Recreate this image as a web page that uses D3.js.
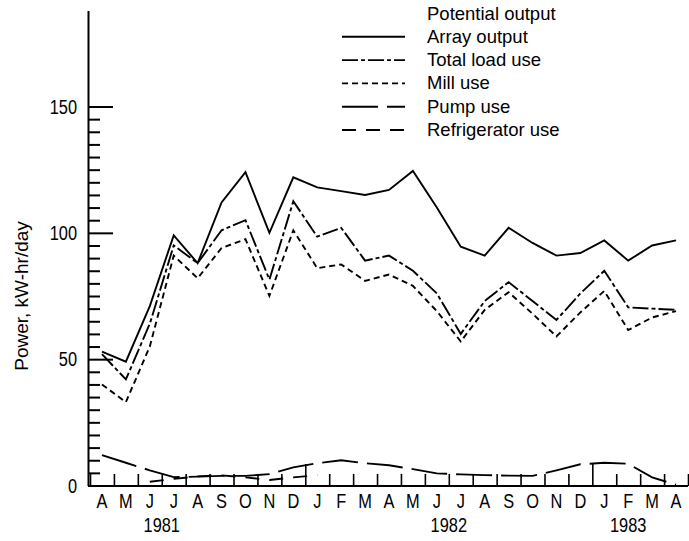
<!DOCTYPE html>
<html>
<head>
<meta charset="utf-8">
<script src="https://cdn.jsdelivr.net/npm/d3@7"></script>
<style>
  html, body { margin: 0; background: #fff; }
  svg { display: block; }
</style>
</head>
<body>
<div id="chart"></div>
<script>
const WIDTH = 689;
const HEIGHT = 541;
const FONT = '"Liberation Sans", Arial, sans-serif';
const SQUEEZE = 0.78; // the scan's axis lettering is condensed
const LINE_W = 1.9;

// April 1981 .. April 1983, one point per month.
const MONTHS = [
  '1981-04', '1981-05', '1981-06', '1981-07', '1981-08', '1981-09', '1981-10', '1981-11', '1981-12',
  '1982-01', '1982-02', '1982-03', '1982-04', '1982-05', '1982-06', '1982-07', '1982-08', '1982-09',
  '1982-10', '1982-11', '1982-12', '1983-01', '1983-02', '1983-03', '1983-04',
];
const MONTH_LETTERS = ['A', 'M', 'J', 'J', 'A', 'S', 'O', 'N', 'D', 'J', 'F', 'M', 'A', 'M', 'J', 'J', 'A', 'S', 'O', 'N', 'D', 'J', 'F', 'M', 'A'];
const YEAR_LABELS = ['1981', '1982', '1983'];
// each year label sits centred under these months
const YEAR_UNDER = [['1981-06', '1981-07'], ['1982-06', '1982-07'], ['1983-02', '1983-02']];
const YEAR_STARTS = ['1982-01', '1983-01'];
const Y_MAJOR = [0, 50, 100, 150];

// kW-hr/day
const arrayOutput = [53, 49, 71, 99, 88, 112, 124, 100, 122, 118, 116.5, 115, 117, 124.5, 110, 94.5, 91, 102, 96, 91, 92, 97, 89, 95, 97];
const totalLoadUse = [52, 42, 64, 95, 88, 101, 105, 81.5, 112.5, 98.5, 102, 89, 91, 85, 76, 60, 73, 80.5, 73, 65.5, 76, 85, 70.5, 70, 69.5];
const millUse = [40, 33, 55, 91, 82, 94, 97.5, 75, 101, 86, 87.5, 81, 83.5, 79, 69, 57, 69.5, 76.5, 68, 59, 68.5, 77, 61.5, 66.5, 69];
const pumpUse = [12, 9, 6, 3.3, 3.5, 3.8, 3.8, 4.5, 7.2, 8.8, 10, 8.8, 8, 6.5, 4.8, 4.4, 4.1, 3.9, 3.8, 6, 8.4, 9, 8.6, 3.2, 0.3];
const refrigeratorUse = [null, null, 1.5, 2.6, 3.6, 4, 3.2, 2.2, 3.2, 4.1, null, null, null, null, null, null, null, null, null, null, null, null, null, null, null];

const LEGEND_LABELS = ['Potential output', 'Array output', 'Total load use', 'Mill use', 'Pump use', 'Refrigerator use'];
const SERIES = [null, arrayOutput, totalLoadUse, millUse, pumpUse, refrigeratorUse];

// dash pattern per legend row (no sample drawn for potential output)
const DASHES = [null, null, '16,3,4,3', '6,4', '36,9', '14,10'];

const svg = d3.select('#chart').append('svg')
  .attr('width', WIDTH)
  .attr('height', HEIGHT);

const x = d3.scaleBand().domain(MONTHS).range([90, 688]).padding(0);
const xc = (m) => x(m) + x.bandwidth() / 2;
const y = d3.scaleLinear().domain([0, 188]).range([485.5, 10.5]);

// squeeze text horizontally around its own anchor point
function condense(sel) {
  sel.each(function () {
    const t = d3.select(this);
    const x0 = +t.attr('x') || 0;
    t.attr('x', x0 / SQUEEZE).attr('transform', `scale(${SQUEEZE},1)`);
  });
}

// y axis: long ticks at 50s, short ticks every 5, all pointing inward
const minor = d3.range(5, 150, 5).filter((v) => v % 50 !== 0);
svg.append('g')
  .attr('transform', 'translate(88,0)')
  .call(d3.axisLeft(y).tickValues(minor).tickSizeInner(-12).tickSizeOuter(0).tickFormat(''))
  .call((g) => g.select('.domain').remove())
  .call((g) => g.selectAll('line').attr('stroke-width', 2));

svg.append('g')
  .attr('transform', 'translate(88,0)')
  .call(d3.axisLeft(y).tickValues(Y_MAJOR).tickSizeInner(-25).tickSizeOuter(0).tickPadding(11))
  .call((g) => g.selectAll('line').attr('stroke-width', 2))
  .call((g) => g.select('.domain').attr('stroke-width', 2))
  .call((g) => g.selectAll('text')
    .attr('font-family', FONT)
    .attr('font-size', 21)
    .attr('fill', '#000')
    .call(condense));

// x axis: ticks at month boundaries, taller at the turn of the year
const bounds = MONTHS.map((m) => x(m)).concat([x.range()[1]]);
svg.append('g')
  .attr('transform', 'translate(0,486)')
  .call(d3.axisBottom(d3.scaleIdentity()).tickValues(bounds).tickSizeInner(-12).tickSizeOuter(0).tickFormat(''))
  .call((g) => g.select('.domain').attr('d', `M88,0H${x.range()[1]}`).attr('stroke-width', 2))
  .call((g) => g.selectAll('.tick line')
    .attr('stroke-width', 1.6)
    .attr('y2', (d) => (YEAR_STARTS.some((m) => x(m) === d) ? -22 : -12)));

svg.append('g')
  .attr('transform', 'translate(0,486)')
  .call(d3.axisBottom(x).tickSize(0).tickPadding(7).tickFormat((m, i) => MONTH_LETTERS[i]))
  .call((g) => g.select('.domain').remove())
  .call((g) => g.selectAll('text')
    .attr('font-family', FONT)
    .attr('font-size', 21)
    .attr('fill', '#000')
    .call(condense));

svg.append('g')
  .selectAll('text')
  .data(YEAR_LABELS)
  .join('text')
  .attr('x', (d, i) => (xc(YEAR_UNDER[i][0]) + xc(YEAR_UNDER[i][1])) / 2)
  .attr('y', 532)
  .attr('text-anchor', 'middle')
  .attr('font-family', FONT)
  .attr('font-size', 21)
  .text((d) => d)
  .call(condense);

svg.append('text')
  .attr('transform', 'translate(28,296) rotate(-90)')
  .attr('text-anchor', 'middle')
  .attr('font-family', FONT)
  .attr('font-size', 19)
  .text('Power, kW-hr/day');

// series lines
const line = d3.line()
  .defined((d) => d != null)
  .x((d, i) => xc(MONTHS[i]))
  .y((d) => y(d));

svg.append('g')
  .selectAll('path')
  .data(SERIES.map((values, i) => ({ values, dash: DASHES[i] })).filter((s) => s.values))
  .join('path')
  .attr('d', (s) => line(s.values))
  .attr('fill', 'none')
  .attr('stroke', '#000')
  .attr('stroke-width', LINE_W)
  .attr('stroke-dasharray', (s) => s.dash);

// legend
const legend = svg.append('g');
const rowY = (i) => 19.5 + i * 23.3;

legend.selectAll('line')
  .data(LEGEND_LABELS.map((label, i) => ({ label, i })).filter((d) => SERIES[d.i]))
  .join('line')
  .attr('x1', 342)
  .attr('x2', 405)
  .attr('y1', (d) => rowY(d.i) - 6)
  .attr('y2', (d) => rowY(d.i) - 6)
  .attr('stroke', '#000')
  .attr('stroke-width', LINE_W)
  .attr('stroke-dasharray', (d) => DASHES[d.i]);

legend.selectAll('text')
  .data(LEGEND_LABELS)
  .join('text')
  .attr('x', 427)
  .attr('y', (d, i) => rowY(i))
  .attr('font-family', FONT)
  .attr('font-size', 18.5)
  .text((d) => d);
</script>
</body>
</html>
